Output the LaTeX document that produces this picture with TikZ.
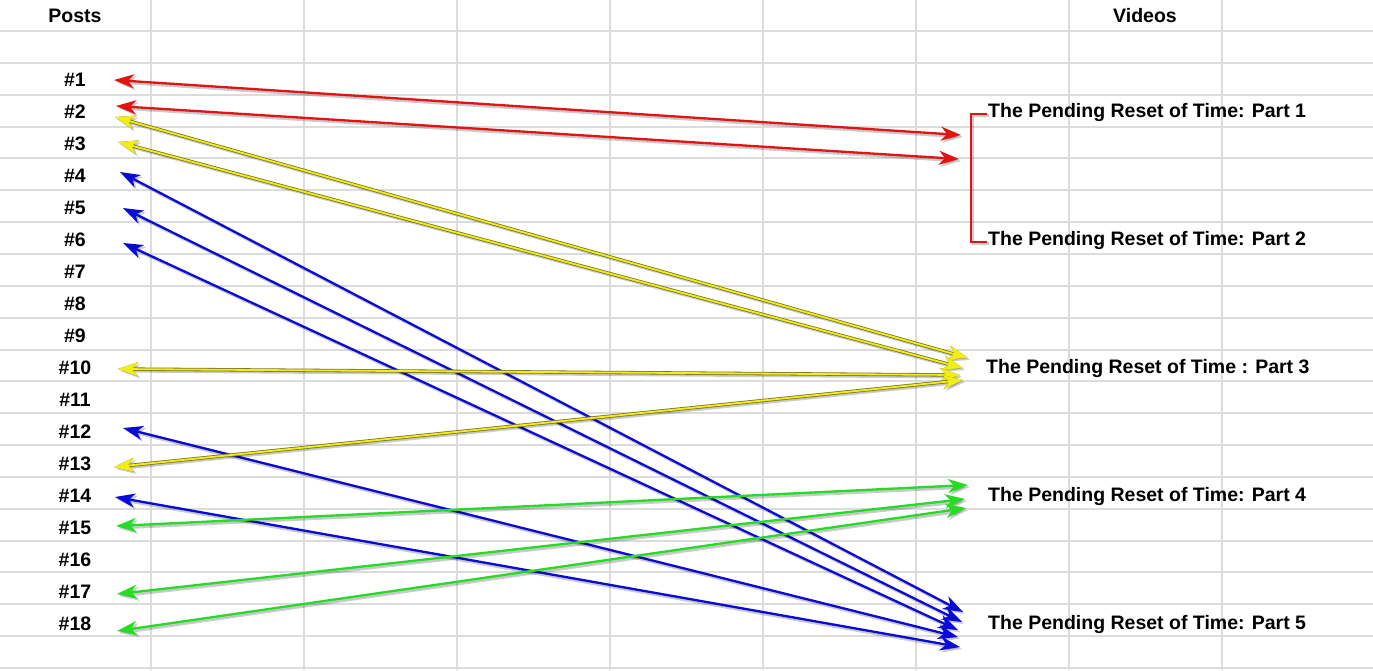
\documentclass[tikz,border=0pt]{standalone}
\usepackage{fontspec}
\setmainfont{Liberation Sans}
\usetikzlibrary{arrows.meta,calc}
\definecolor{gridc}{RGB}{220,220,220}
\definecolor{ared}{RGB}{225,20,20}
\definecolor{ayel}{RGB}{242,238,20}
\definecolor{ayeldark}{RGB}{120,118,40}
\definecolor{ablue}{RGB}{10,10,215}
\definecolor{agreen}{RGB}{35,220,35}
\tikzset{
  lbl/.style={font=\bfseries\fontsize{19.5}{20}\selectfont, inner sep=0pt},
  gridline/.style={draw=gridc, line width=2pt},
  link/.style={line width=2.3pt,
    {Stealth[length=20pt,width=14pt,inset=6pt]}-{Stealth[length=20pt,width=14pt,inset=6pt]}},
  shadowlink/.style={link, draw=black, fill=black, opacity=0.2, line width=3pt},
  bracket/.style={draw=ared, line width=2pt},
}
\newcommand\lnk[3]{%
  \draw[shadowlink] ($(#2)+(2,2)$) -- ($(#3)+(2,2)$);
  \draw[link, draw=#1, fill=#1] (#2) -- (#3);}
\newcommand\ylnk[2]{%
  \draw[shadowlink] ($(#1)+(2,2)$) -- ($(#2)+(2,2)$);
  \draw[link, draw=ayeldark, fill=ayeldark, line width=3.4pt] (#1) -- (#2);
  \draw[link, draw=ayel, fill=ayel, line width=1.8pt] (#1) -- (#2);}
\begin{document}
\begin{tikzpicture}[x=1pt,y=-1pt]
\useasboundingbox (0,0) rectangle (1373,670);
\fill[white] (0,0) rectangle (1373,670);
% grid
\foreach \i in {0,...,7} {\draw[gridline] (151+153*\i,0) -- (151+153*\i,670);}
\foreach \j in {0,...,20} {\draw[gridline] (0,31+31.85*\j) -- (1373,31+31.85*\j);}
% headers
\node[lbl] (posts) at (75,16) {Posts};
\node[lbl] (videos) at (1145,16) {Videos};
% post labels
\foreach \k in {1,...,18} {\node[lbl] (p\k) at (75,{80+31.97*(\k-1)}) {\#\k};}
% video labels
\node[lbl, anchor=west] (v1) at (988,112.5) {The Pending Reset of Time: Part 1};
\node[lbl, anchor=west] (v2) at (988,240.5) {The Pending Reset of Time: Part 2};
\node[lbl, anchor=west] (v3) at (986,368.5) {The Pending Reset of Time : Part 3};
\node[lbl, anchor=west] (v4) at (988,496.5) {The Pending Reset of Time: Part 4};
\node[lbl, anchor=west] (v5) at (988,624.5) {The Pending Reset of Time: Part 5};
% bracket
\draw[black, opacity=0.2, line width=2.6pt] ($(v1.west)+(1,3)$) -- ++(-16,0) |- ($(v2.west)+(1,3)$);
\draw[bracket] ($(v1.west)+(-1,1)$) -- ++(-16,0) |- ($(v2.west)+(-1,1)$);
% endpoints
\coordinate (r1L) at (114,80);  \coordinate (r1R) at (961,135);
\coordinate (r2L) at (116,106); \coordinate (r2R) at (959,159);
\coordinate (y2L) at (115,117); \coordinate (y2R) at (968,358);
\coordinate (y3L) at (118,142); \coordinate (y3R) at (963,368);
\coordinate (y10L) at (118,369); \coordinate (y10R) at (960,375);
\coordinate (y13L) at (114,467); \coordinate (y13R) at (963,380);
\coordinate (b4L) at (120,172); \coordinate (b4R) at (963,612);
\coordinate (b5L) at (123,208); \coordinate (b5R) at (962,622);
\coordinate (b6L) at (123,243); \coordinate (b6R) at (958,630);
\coordinate (b12L) at (123,428); \coordinate (b12R) at (958,637);
\coordinate (b14L) at (115,497); \coordinate (b14R) at (960,647);
\coordinate (g15L) at (116,526); \coordinate (g15R) at (968,485);
\coordinate (g17L) at (117,594); \coordinate (g17R) at (965,499);
\coordinate (g18L) at (117,631); \coordinate (g18R) at (966,508);
% links
\lnk{ared}{r1L}{r1R}
\lnk{ared}{r2L}{r2R}
\lnk{ablue}{b4L}{b4R}
\lnk{ablue}{b5L}{b5R}
\lnk{ablue}{b6L}{b6R}
\lnk{ablue}{b12L}{b12R}
\lnk{ablue}{b14L}{b14R}
\lnk{agreen}{g15L}{g15R}
\lnk{agreen}{g17L}{g17R}
\lnk{agreen}{g18L}{g18R}
\ylnk{y2L}{y2R}
\ylnk{y3L}{y3R}
\ylnk{y10L}{y10R}
\ylnk{y13L}{y13R}
\end{tikzpicture}
\end{document}
